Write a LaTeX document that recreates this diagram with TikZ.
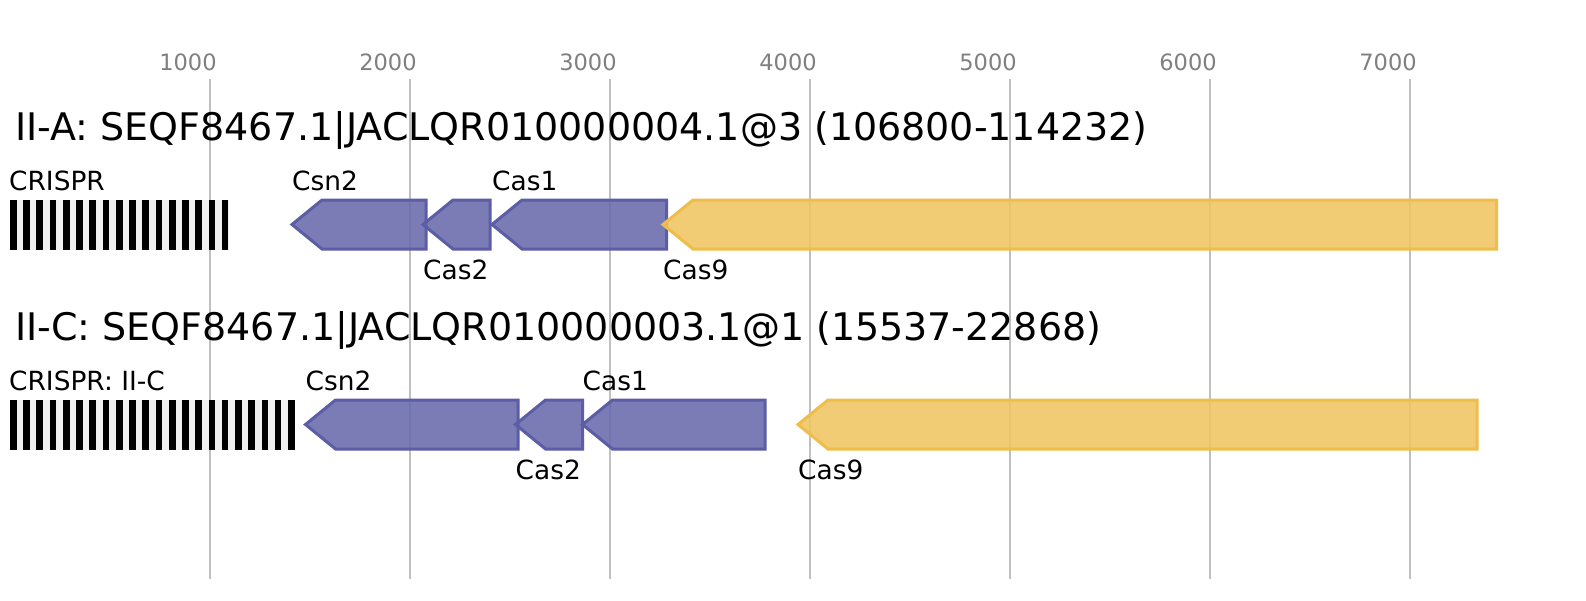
\documentclass[tikz,border=0pt]{standalone}
\usepackage{fontspec}
\setmainfont{DejaVu Sans}
\usepackage{xcolor}
\usepackage{tikz}

\definecolor{casfill}{RGB}{100,102,169}
\definecolor{casline}{RGB}{91,93,166}
\definecolor{ninefill}{RGB}{239,196,94}
\definecolor{nineline}{RGB}{239,189,74}
\definecolor{gridgray}{RGB}{192,192,192}
\definecolor{tickgray}{RGB}{128,128,128}
\definecolor{spacer}{RGB}{240,240,240}

\begin{document}
\begin{tikzpicture}[x=1pt, y=-1pt,
    title/.style = {anchor=base west, inner sep=0pt,
                    font=\fontsize{38}{46}\selectfont},
    genelabel/.style = {anchor=base west, inner sep=0pt,
                    font=\fontsize{26.4}{32}\selectfont},
    ticklabel/.style = {anchor=base, inner sep=0pt, text=tickgray,
                    font=\fontsize{22.5}{27}\selectfont},
    cas/.style = {draw=casline, fill=casfill, fill opacity=0.85,
                  line width=3pt},
    nine/.style = {cas, draw=nineline, fill=ninefill}]
  \useasboundingbox (0,0) rectangle (1586,600);
  \fill[white] (0,0) rectangle (1586,600);

  % scale
  \foreach \k in {1,...,7} {
    \draw[gridgray, line width=2pt] (10+200*\k,79) -- (10+200*\k,579);
    \node[ticklabel] (tick\k) at (10+200*\k-22,70) {\k000};
  }

  % II-A
  \node (titleA) [title] at (15,140) {II-A: SEQF8467.1|JACLQR010000004.1@3 (106800-114232)};
  \fill[spacer] (10,200) rectangle (228.5,250);
  \foreach \i in {0,...,16}
    \fill[black] (10+13.24*\i,200) rectangle (16.62+13.24*\i,250);
  \node (crisprA) [genelabel] at (9,190) {CRISPR};

  \foreach \tip/\rgt in {292/426, 423/490, 492/666.5}
    \draw[cas] (\rgt,200) -- (\tip+30,200) -- (\tip,224.5)
      -- (\tip+30,249) -- (\rgt,249) -- cycle;
  \draw[nine] (1496.5,200) -- (693,200) -- (663,224.5)
      -- (693,249) -- (1496.5,249) -- cycle;

  \node (csnA) [genelabel] at (292,190) {Csn2};
  \node (castwoA) [genelabel] at (423,279) {Cas2};
  \node (casoneA) [genelabel] at (492,190) {Cas1};
  \node (casnineA) [genelabel] at (663,279) {Cas9};

  % II-C
  \node (titleC) [title] at (15,340) {II-C: SEQF8467.1|JACLQR010000003.1@1 (15537-22868)};
  \fill[spacer] (10,400) rectangle (294.7,450);
  \foreach \i in {0,...,21}
    \fill[black] (10+13.24*\i,400) rectangle (16.62+13.24*\i,450);
  \node (crisprC) [genelabel] at (9,390) {CRISPR: II-C};

  \foreach \tip/\rgt in {305.5/518, 515.5/582.5, 582.5/765}
    \draw[cas] (\rgt,400) -- (\tip+30,400) -- (\tip,424.5)
      -- (\tip+30,449) -- (\rgt,449) -- cycle;
  \draw[nine] (1477,400) -- (828,400) -- (798,424.5)
      -- (828,449) -- (1477,449) -- cycle;

  \node (csnC) [genelabel] at (305.5,390) {Csn2};
  \node (castwoC) [genelabel] at (515.5,479) {Cas2};
  \node (casoneC) [genelabel] at (582.5,390) {Cas1};
  \node (casnineC) [genelabel] at (798,479) {Cas9};
\end{tikzpicture}
\end{document}
